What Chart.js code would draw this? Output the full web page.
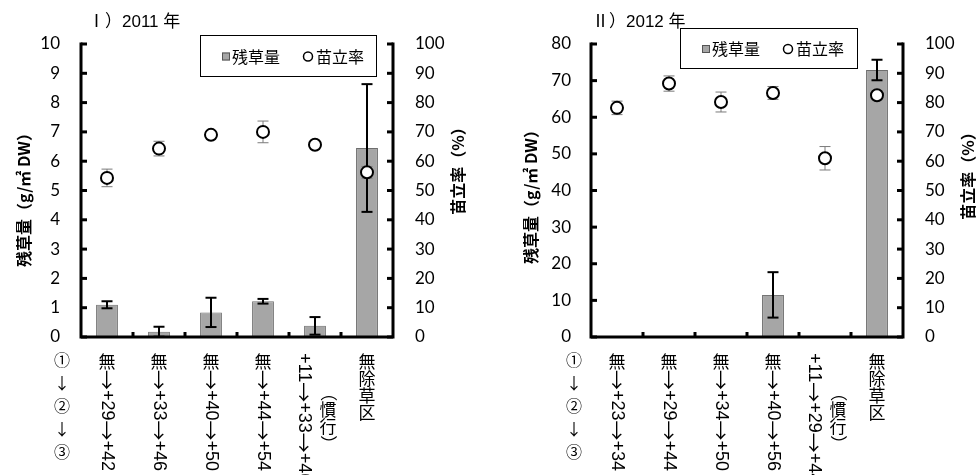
<!DOCTYPE html>
<html><head><meta charset="utf-8">
<script src="https://cdn.jsdelivr.net/npm/chart.js@4.4.1/dist/chart.umd.min.js"></script>
<style>
html,body{margin:0;padding:0;background:#fff;}
#wrap{position:relative;width:980px;height:475px;overflow:hidden;background:#fff;}
.pane{position:absolute;top:0;width:490px;height:475px;}
canvas{display:block;}
</style></head><body>
<div id="wrap">
<div class="pane" style="left:0"><canvas id="c1" width="490" height="475"></canvas></div>
<div class="pane" style="left:490px"><canvas id="c2" width="490" height="475"></canvas></div>
</div>
<script>
// ---- data ----
const categories2011 = [['無→+29→+42'], ['無→+33→+46'], ['無→+40→+50'], ['無→+44→+54'], ['+11→+33→+46', '（慣行）'], ['無除草区']];
const categories2012 = [['無→+23→+34'], ['無→+29→+44'], ['無→+34→+50'], ['無→+40→+56'], ['+11→+29→+44', '（慣行）'], ['無除草区']];
const sideLabel = '①↓②↓③';
const seriesNames = ['残草量', '苗立率'];
const weed2011 = [1.10, 0.18, 0.84, 1.22, 0.38, 6.45];
const weedErr2011 = [0.12, 0.17, 0.50, 0.08, 0.30, 2.18];
const stand2011 = [54.3, 64.3, 69.0, 70.0, 65.6, 56.2];
const standErr2011 = [3.0, 2.5, 1.0, 3.7, 1.0, 2.0];
const weed2012 = [0.2, 0, 0, 11.5, 0, 72.9];
const weedErr2012 = [0, 0, 0, 6.2, 0, 2.8];
const stand2012 = [78.2, 86.5, 80.2, 83.3, 61.0, 82.5];
const standErr2012 = [2.3, 2.6, 3.4, 2.2, 4.0, 1.5];
const titles = ['Ⅰ）2011 年', 'Ⅱ）2012 年'];
const yTitleLeft = '残草量（g/㎡ DW）';
const yTitleRight = '苗立率（%）';

const CJK = '"Noto Sans CJK JP", "Noto Sans", sans-serif';
const TICKFONT = 'Lato';
const UPRIGHT = /[\u3040-\u30ff\u4e00-\u9fff\u2460-\u2473\u2193]/;
const SPECIAL = /[（）→]/;

function vText(ctx, str, cx, top, size, draw) {
  let y = top, run = '';
  const cjkFont = size + 'px ' + CJK;
  const arrowFont = (size + 3) + 'px ' + CJK;
  const latFont = (size + 1) + 'px "Liberation Sans", ' + CJK;
  const drawRot = (txt, font, minAdv) => {
    ctx.font = font;
    const w = Math.max(ctx.measureText(txt).width, minAdv || 0);
    if (draw) {
      ctx.save(); ctx.translate(cx, y + (w - ctx.measureText(txt).width) / 2); ctx.rotate(Math.PI / 2);
      ctx.textAlign = 'left'; ctx.textBaseline = 'middle';
      ctx.fillText(txt, 0, 0); ctx.restore();
    }
    y += w;
  };
  const flush = () => { if (run) { drawRot(run, latFont); run = ''; } };
  for (const ch of str) {
    if (SPECIAL.test(ch)) {
      flush();
      if (ch === '→') drawRot(ch, arrowFont, size * 1.15);
      else drawRot(ch, cjkFont);
    } else if (UPRIGHT.test(ch)) {
      flush();
      ctx.font = cjkFont;
      if (draw) { ctx.textAlign = 'center'; ctx.textBaseline = 'middle'; ctx.fillText(ch, cx, y + size / 2); }
      y += size;
    } else run += ch;
  }
  flush();
  return y - top;
}

function line(ctx, x1, y1, x2, y2) { ctx.beginPath(); ctx.moveTo(x1, y1); ctx.lineTo(x2, y2); ctx.stroke(); }

function makePanel(canvas, p) {
  const plugin = {
    id: 'panel',
    afterDatasetDraw(chart, args) {
      if (args.index !== 1) return;
      const ctx = chart.ctx, xs = chart.scales.x, ys = chart.scales.y;
      ctx.save(); ctx.strokeStyle = '#000'; ctx.lineWidth = 2;
      p.weed.forEach((v, i) => {
        const e = p.weedErr[i]; if (!e) return;
        const cx = xs.getPixelForValue(i);
        const t = ys.getPixelForValue(v + e), b = ys.getPixelForValue(Math.max(0, v - e));
        line(ctx, cx, t, cx, b); line(ctx, cx - 5.5, t, cx + 5.5, t); line(ctx, cx - 5.5, b, cx + 5.5, b);
      });
      ctx.restore();
    },
    beforeDatasetDraw(chart, args) {
      if (args.index !== 0) return;
      const ctx = chart.ctx, xs = chart.scales.x, ys = chart.scales.y2;
      ctx.save(); ctx.strokeStyle = '#7a7a7a'; ctx.lineWidth = 1;
      p.stand.forEach((v, i) => {
        const e = p.standErr[i]; if (!e) return;
        const cx = xs.getPixelForValue(i);
        const t = ys.getPixelForValue(v + e), b = ys.getPixelForValue(v - e);
        line(ctx, cx, t, cx, b); line(ctx, cx - 5.5, t, cx + 5.5, t); line(ctx, cx - 5.5, b, cx + 5.5, b);
      });
      ctx.restore();
    },
    afterDraw(chart) {
      const ctx = chart.ctx, a = chart.chartArea, xs = chart.scales.x;
      ctx.save();
      // axes
      ctx.strokeStyle = '#000'; ctx.lineWidth = 3; ctx.lineJoin = 'miter'; ctx.lineCap = 'square';
      ctx.beginPath(); ctx.moveTo(a.left, a.top); ctx.lineTo(a.left, a.bottom); ctx.lineTo(a.right, a.bottom); ctx.lineTo(a.right, a.top); ctx.stroke();
      ctx.lineCap = 'butt';
      // inward ticks
      chart.scales.y.ticks.forEach(t => { const y = chart.scales.y.getPixelForValue(t.value); line(ctx, a.left, y, a.left + 6, y); });
      chart.scales.y2.ticks.forEach(t => { const y = chart.scales.y2.getPixelForValue(t.value); line(ctx, a.right - 6, y, a.right, y); });
      for (let i = 0; i < p.cats.length - 1; i++) {
        const x = (xs.getPixelForValue(i) + xs.getPixelForValue(i + 1)) / 2;
        line(ctx, x, a.bottom - 5, x, a.bottom);
      }
      // category labels (vertical writing)
      ctx.fillStyle = '#000';
      const fs = 17;
      const top = a.bottom + 16;
      p.cats.forEach((cols, i) => {
        const cx = xs.getPixelForValue(i);
        if (cols.length === 1) { vText(ctx, cols[0], cx, top, fs, true); }
        else {
          const L0 = vText(ctx, cols[0], 0, 0, fs, false);
          const L1 = vText(ctx, cols[1], 0, 0, fs, false);
          vText(ctx, cols[0], cx - 11, top, fs, true);
          vText(ctx, cols[1], cx + 13, top + (L0 - L1) / 2, fs, true);
        }
      });
      // side label
      ctx.font = '16px ' + CJK; ctx.textAlign = 'center'; ctx.textBaseline = 'middle';
      [...sideLabel].forEach((ch, k) => ctx.fillText(ch, p.sideX, top + 7 + k * 23));
      // titles
      ctx.font = '17px "Liberation Sans", ' + CJK; ctx.textAlign = 'left'; ctx.textBaseline = 'alphabetic';
      ctx.fillText(p.title, p.titleX, 27);
      // axis titles
      ctx.font = 'bold 16px ' + CJK; ctx.textAlign = 'center'; ctx.textBaseline = 'middle';
      ctx.save(); ctx.translate(p.ltX, p.ltY); ctx.rotate(-Math.PI / 2); ctx.fillText(yTitleLeft, 0, 0); ctx.restore();
      ctx.save(); ctx.translate(p.rtX, p.rtY); ctx.rotate(-Math.PI / 2); ctx.fillText(yTitleRight, 0, 0); ctx.restore();
      // legend
      const L = p.legend;
      ctx.fillStyle = '#fff'; ctx.fillRect(L.x, L.y, L.w, L.h);
      ctx.strokeStyle = '#000'; ctx.lineWidth = 1; ctx.strokeRect(L.x + 0.5, L.y + 0.5, L.w, L.h);
      const cy = L.y + L.h / 2 + 1;
      ctx.fillStyle = '#a6a6a6'; ctx.fillRect(L.x + 22, cy - 4, 8, 8);
      ctx.strokeStyle = '#555'; ctx.strokeRect(L.x + 22.5, cy - 3.5, 7, 7);
      ctx.fillStyle = '#000'; ctx.font = '16px ' + CJK; ctx.textAlign = 'left'; ctx.textBaseline = 'middle';
      ctx.fillText(chart.data.datasets[1].label, L.x + 32, cy);
      ctx.beginPath(); ctx.arc(L.x + 108, cy, 4.5, 0, Math.PI * 2); ctx.lineWidth = 1.5; ctx.strokeStyle = '#000'; ctx.stroke();
      ctx.fillText(chart.data.datasets[0].label, L.x + 116, cy);
      ctx.restore();
    }
  };
  const tickFont = { family: TICKFONT, size: 17 };
  return new Chart(canvas, {
    type: 'bar',
    data: {
      labels: p.cats,
      datasets: [
        { type: 'line', label: seriesNames[1], data: p.stand, yAxisID: 'y2', showLine: false, order: 0,
          pointRadius: 6, pointHoverRadius: 6, pointBorderWidth: 2, pointBorderColor: '#000', pointBackgroundColor: '#fff' },
        { type: 'bar', label: seriesNames[0], data: p.weed, yAxisID: 'y', order: 1,
          backgroundColor: '#a6a6a6', borderColor: '#6e6e6e', borderWidth: 1, barPercentage: 0.42, categoryPercentage: 1 }
      ]
    },
    options: {
      responsive: false, animation: false, devicePixelRatio: 1,
      layout: { padding: { top: 44, left: 0, right: 0, bottom: 0 } },
      plugins: { legend: { display: false }, tooltip: { enabled: false } },
      scales: {
        x: { type: 'category', offset: true, grid: { display: false, drawTicks: false }, border: { display: false },
             ticks: { display: false }, afterFit(s) { s.height = 138; } },
        y: { position: 'left', min: 0, max: p.yMax, grid: { display: false, drawTicks: false }, border: { display: false },
             ticks: { stepSize: p.yStep, padding: p.yPad, color: '#000', font: tickFont }, afterFit(s) { s.width = p.leftW; } },
        y2: { position: 'right', min: 0, max: 100, grid: { display: false, drawTicks: false }, border: { display: false },
              ticks: { stepSize: 10, padding: p.y2Pad, color: '#000', font: tickFont }, afterFit(s) { s.width = p.rightW; } }
      }
    },
    plugins: [plugin]
  });
}

makePanel(document.getElementById('c1'), {
  cats: categories2011, weed: weed2011, weedErr: weedErr2011, stand: stand2011, standErr: standErr2011,
  yMax: 10, yStep: 1, yPad: 21, y2Pad: 22, leftW: 81, rightW: 97,
  title: titles[0], titleX: 88, ltX: 24, ltY: 196, rtX: 458, rtY: 167, sideX: 62,
  legend: { x: 200, y: 35, w: 176, h: 41 }
});
makePanel(document.getElementById('c2'), {
  cats: categories2012, weed: weed2012, weedErr: weedErr2012, stand: stand2012, standErr: standErr2012,
  yMax: 80, yStep: 10, yPad: 20, y2Pad: 22, leftW: 101, rightW: 77,
  title: titles[1], titleX: 102, ltX: 41, ltY: 193, rtX: 478, rtY: 172, sideX: 84,
  legend: { x: 190, y: 28, w: 177, h: 40 }
});
</script>
</body></html>
